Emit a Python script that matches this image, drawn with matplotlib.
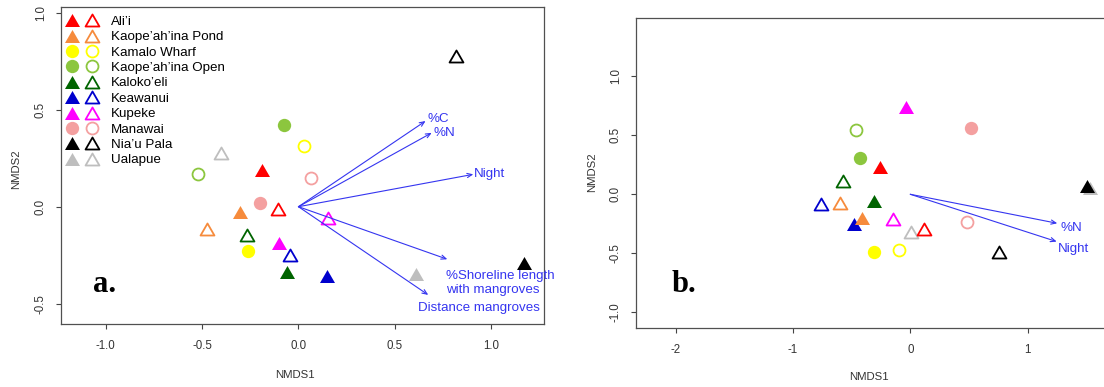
import matplotlib.pyplot as plt
from matplotlib.lines import Line2D
from matplotlib.legend_handler import HandlerTuple
from matplotlib.path import Path

plt.rcParams['font.family'] = ['Liberation Sans', 'DejaVu Sans']

sites = ["Ali’i", "Kaope’ah’ina Pond", "Kamalo Wharf", "Kaope’ah’ina Open",
         "Kaloko’eli", "Keawanui", "Kupeke", "Manawai", "Nia’u Pala", "Ualapue"]
site_colors = ['#ff0000', '#f68b3c', '#ffff00', '#8cc63e', '#006400',
               '#0000cd', '#ff00ff', '#f4a0a0', '#000000', '#bebebe']
site_shapes = ['tri', 'tri', 'circle', 'circle', 'tri',
               'tri', 'tri', 'circle', 'tri', 'tri']

# NMDS scores, panel a
a_filled_x = [-0.19, -0.304, -0.264, -0.075, -0.061, 0.15, -0.10, -0.20, 1.171, 0.61]
a_filled_y = [0.19, -0.026, -0.227, 0.42, -0.337, -0.357, -0.189, 0.018, -0.292, -0.348]
a_open_x = [-0.108, -0.474, 0.029, -0.523, -0.269, -0.044, 0.155, 0.065, 0.818, -0.40]
a_open_y = [-0.013, -0.117, 0.313, 0.167, -0.146, -0.25, -0.06, 0.15, 0.777, 0.275]

# NMDS scores, panel b
b_filled_x = [-0.258, -0.414, -0.307, -0.429, -0.307, -0.48, -0.037, 0.517, 1.509, 1.53]
b_filled_y = [0.234, -0.20, -0.486, 0.31, -0.057, -0.254, 0.737, 0.565, 0.07, 0.05]
b_open_x = [0.12, -0.60, -0.096, -0.46, -0.571, -0.764, -0.15, 0.483, 0.756, 0.006]
b_open_y = [-0.297, -0.076, -0.475, 0.542, 0.115, -0.082, -0.212, -0.237, -0.486, -0.322]

# fitted environmental vectors
a_vec_names = ["%C", "%N", "Night", "%Shoreline length\nwith mangroves", "Distance mangroves"]
a_vec_x = [0.66, 0.692, 0.908, 0.773, 0.674]
a_vec_y = [0.442, 0.381, 0.167, -0.271, -0.455]
a_vec_offsets = [(1.4, 1.4), (1.4, 0), (0.7, 0), (-0.7, -17.3), (-7.6, -9.4)]

b_vec_names = ["%N", "Night"]
b_vec_x = [1.253, 1.248]
b_vec_y = [-0.246, -0.401]
b_vec_offsets = [(2.2, -3.6), (0.7, -5.0)]

TRI = Path([(-1, -0.866), (1, -0.866), (0, 0.866), (-1, -0.866)], closed=True)
ARROW_COLOR = '#3535f0'
TEXT_GREY = '#333333'


def marker_style(shape, color, filled):
    if shape == 'tri':
        kw = dict(marker=TRI, markersize=10.8 if filled else 10.0)
    else:
        kw = dict(marker='o', markersize=9.6 if filled else 8.6)
    if filled:
        kw.update(markerfacecolor=color, markeredgewidth=0)
    else:
        kw.update(markerfacecolor='none', markeredgecolor=color, markeredgewidth=1.3)
    return kw


def draw_points(ax, fx, fy, ox, oy):
    for i in reversed(range(len(sites))):
        ax.plot(fx[i], fy[i], ls='none', **marker_style(site_shapes[i], site_colors[i], True))
        ax.plot(ox[i], oy[i], ls='none', **marker_style(site_shapes[i], site_colors[i], False))


def draw_vectors(ax, names, vx, vy, offsets):
    for name, x, y, off in zip(names, vx, vy, offsets):
        ax.annotate('', xy=(x, y), xytext=(0, 0),
                    arrowprops=dict(arrowstyle='->,head_length=0.35,head_width=0.15',
                                    color=ARROW_COLOR, lw=0.8, shrinkA=0, shrinkB=0))
        ax.annotate(name, xy=(x, y), xytext=off, textcoords='offset points',
                    ha='left', va='center', color=ARROW_COLOR, fontsize=9.6)


def style_axes(ax, xticks, yticks, xfmt, yfmt):
    ax.set_xticks(xticks)
    ax.set_yticks(yticks)
    ax.set_xticklabels([xfmt.format(v) for v in xticks])
    ax.set_yticklabels([yfmt.format(v) for v in yticks], rotation=90, va='center')
    ax.tick_params(direction='out', length=3.6, width=0.8, colors='#444444',
                   labelcolor=TEXT_GREY, labelsize=8.3)
    ax.tick_params(axis='x', pad=8)
    ax.tick_params(axis='y', pad=6.5)
    for s in ax.spines.values():
        s.set_color('#505050')
        s.set_linewidth(0.9)


fig = plt.figure(figsize=(11.04, 3.87), dpi=100)

# panel a
ax1 = fig.add_axes([0.05525, 0.1628, 0.4375, 0.8191])
ax1.set_xlim(-1.233, 1.275)
ax1.set_ylim(-0.605, 1.03)
draw_points(ax1, a_filled_x, a_filled_y, a_open_x, a_open_y)
draw_vectors(ax1, a_vec_names, a_vec_x, a_vec_y, a_vec_offsets)
style_axes(ax1, [-1.0, -0.5, 0.0, 0.5, 1.0], [-0.5, 0.0, 0.5, 1.0], '{:.1f}', '{:.1f}')
ax1.set_xlabel('NMDS1', fontsize=8.2, color=TEXT_GREY, va='center')
ax1.set_ylabel('NMDS2', fontsize=8.2, color=TEXT_GREY, va='center')
ax1.xaxis.set_label_coords(0.4845, -0.161)
ax1.yaxis.set_label_coords(-0.0932, 0.489)
ax1.text(0.0669, 0.1, 'a.', transform=ax1.transAxes, fontsize=22,
         fontweight='bold', family='Liberation Serif', va='baseline')

handles = [(Line2D([], [], ls='none', **marker_style(sh, c, True)),
            Line2D([], [], ls='none', **marker_style(sh, c, False)))
           for sh, c in zip(site_shapes, site_colors)]
ax1.legend(handles, sites, loc='upper left', bbox_to_anchor=(0.002, 0.973),
           frameon=False, fontsize=9.6, handlelength=3.0, handletextpad=0.68,
           labelspacing=0.23, borderpad=0, borderaxespad=0,
           handler_map={tuple: HandlerTuple(ndivide=None, pad=0)})

# panel b
ax2 = fig.add_axes([0.5761, 0.1517, 0.4312, 0.8026])
ax2.set_xlim(-2.338, 1.72)
ax2.set_ylim(-1.136, 1.497)
draw_points(ax2, b_filled_x, b_filled_y, b_open_x, b_open_y)
draw_vectors(ax2, b_vec_names, b_vec_x, b_vec_y, b_vec_offsets)
style_axes(ax2, [-2, -1, 0, 1], [-1.0, -0.5, 0.0, 0.5, 1.0], '{:g}', '{:.1f}')
ax2.set_xlabel('NMDS1', fontsize=8.2, color=TEXT_GREY, va='center')
ax2.set_ylabel('NMDS2', fontsize=8.2, color=TEXT_GREY, va='center')
ax2.xaxis.set_label_coords(0.489, -0.158)
ax2.yaxis.set_label_coords(-0.093, 0.503)
ax2.text(0.0756, 0.116, 'b.', transform=ax2.transAxes, fontsize=22,
         fontweight='bold', family='Liberation Serif', va='baseline')

fig.savefig('out.png', dpi=100)
